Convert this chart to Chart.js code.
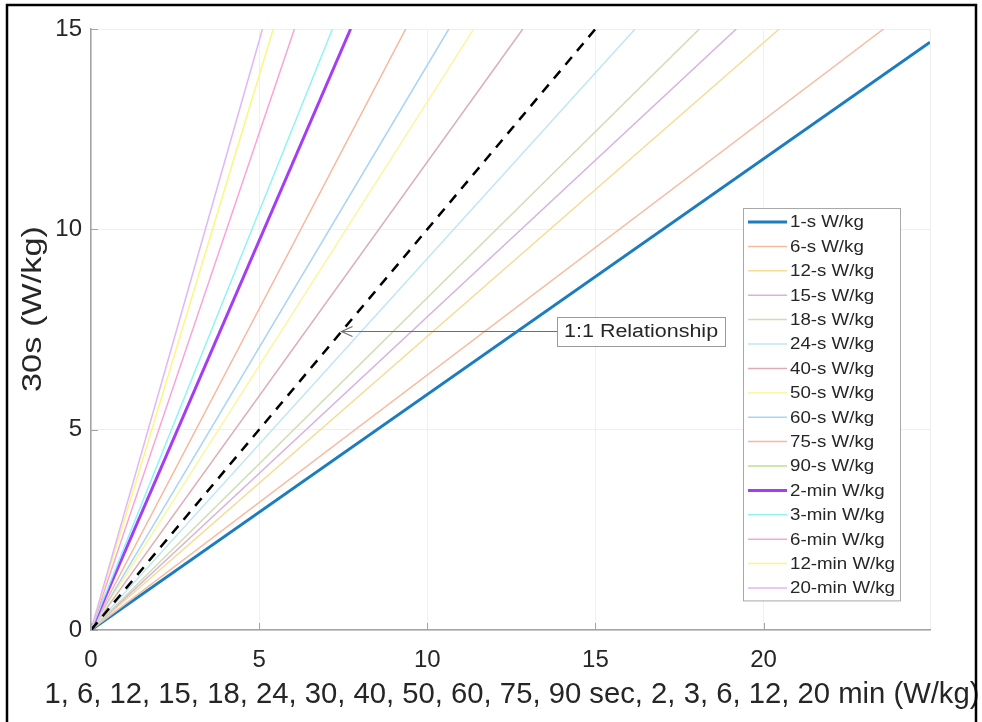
<!DOCTYPE html>
<html>
<head>
<meta charset="utf-8">
<script src="https://cdn.jsdelivr.net/npm/chart.js@4.4.1/dist/chart.umd.min.js"></script>
<style>
  html, body { margin: 0; padding: 0; background: #fff; }
  #wrap { width: 982px; height: 722px; }
</style>
</head>
<body>
<div id="wrap"><canvas id="chart"></canvas></div>
<script>
// series: each line starts at the origin and ends where it leaves the plot
const seriesLabels = ['1-s W/kg', '6-s W/kg', '12-s W/kg', '15-s W/kg', '18-s W/kg', '24-s W/kg',
  '40-s W/kg', '50-s W/kg', '60-s W/kg', '75-s W/kg', '90-s W/kg', '2-min W/kg',
  '3-min W/kg', '6-min W/kg', '12-min W/kg', '20-min W/kg'];
const endX = [24.95, 23.57, 20.47, 19.19, 18.09, 16.18, 12.84, 11.38, 10.64, 9.36, 7.71, 7.72, 7.18, 6.05, 5.42, 5.10];
const endY = [14.67, 15, 15, 15, 15, 15, 15, 15, 15, 15, 15, 15, 15, 15, 15, 15];
const lineColors = ['#1b7cc0', '#f6bca2', '#f7dc98', '#d6b3de', '#cfddb0', '#bfe6f5',
  '#dcadb5', '#fbf6a4', '#a9d3f7', '#f8b79c', '#b9e196', '#a43df7',
  '#8ff3f6', '#f9a3da', '#f9f77e', '#dfb6f6'];
const lineWidths = [3, 1.5, 1.5, 1.5, 1.5, 1.5, 1.5, 1.5, 1.5, 1.5, 1.5, 3, 1.5, 1.5, 1.5, 1.5];

// 1:1 reference line
const identityX = [0, 15];
const identityY = [0, 15];

// annotation
const noteText = '1:1 Relationship';
const noteTip = [7.45, 7.45];
const noteBoxX = 13.86;

const xTicks = [0, 5, 10, 15, 20];
const yTicks = [0, 5, 10, 15];
const xTitle = '1, 6, 12, 15, 18, 24, 30, 40, 50, 60, 75, 90 sec, 2, 3, 6, 12, 20 min (W/kg)';
const yTitle = '30s (W/kg)';

const textColor = '#262626';
const axisColor = '#a3a3a3';
const gridColor = '#efefef';
const fontFam = '"Liberation Sans", Arial, sans-serif';

// the source figure was resized unevenly, so some text is squeezed to a given width
function fitText(ctx, text, x, y, size, width) {
  ctx.font = size + 'px ' + fontFam;
  const sx = width / ctx.measureText(text).width;
  ctx.save();
  ctx.translate(x, y);
  ctx.scale(sx, 1);
  ctx.fillText(text, 0, 0);
  ctx.restore();
}

const datasets = seriesLabels.map((lab, i) => ({
  label: lab,
  data: [{ x: 0, y: 0 }, { x: endX[i], y: endY[i] }],
  borderColor: lineColors[i],
  borderWidth: lineWidths[i],
  pointRadius: 0,
  fill: false,
  order: seriesLabels.length - i
}));
datasets.push({
  label: '1:1',
  data: identityX.map((x, i) => ({ x: x, y: identityY[i] })),
  borderColor: '#000',
  borderWidth: 2.5,
  borderDash: [10, 8],
  pointRadius: 0,
  fill: false,
  order: -1
});

const framePlugin = {
  id: 'frame',
  beforeDraw(chart) {
    const ctx = chart.ctx;
    ctx.save();
    ctx.fillStyle = '#fff';
    ctx.fillRect(0, 0, chart.width, chart.height);
    ctx.restore();
  },
  afterDraw(chart) {
    const ctx = chart.ctx;
    const xs = chart.scales.x, ys = chart.scales.y;
    ctx.save();
    // inward tick marks like matlab
    ctx.strokeStyle = axisColor;
    ctx.lineWidth = 1;
    ctx.beginPath();
    xTicks.forEach(v => {
      const px = Math.round(xs.getPixelForValue(v)) + 0.5;
      ctx.moveTo(px, ys.bottom);
      ctx.lineTo(px, ys.bottom - 7);
    });
    yTicks.forEach(v => {
      const py = Math.round(ys.getPixelForValue(v)) + 0.5;
      ctx.moveTo(xs.left, py);
      ctx.lineTo(xs.left + 7, py);
    });
    ctx.stroke();

    // axis titles
    ctx.fillStyle = textColor;
    ctx.textAlign = 'center';
    ctx.textBaseline = 'middle';
    fitText(ctx, xTitle, 512, 695, 29, 935);
    ctx.save();
    ctx.translate(33, 309);
    ctx.rotate(-Math.PI / 2);
    fitText(ctx, yTitle, 0, 0, 28, 166);
    ctx.restore();

    // outer black frame
    ctx.strokeStyle = '#000';
    ctx.lineWidth = 2.5;
    ctx.strokeRect(7, 5, 969, 730);
    ctx.restore();
  }
};

const notePlugin = {
  id: 'note',
  afterDatasetsDraw(chart) {
    const ctx = chart.ctx;
    const xs = chart.scales.x, ys = chart.scales.y;
    const tipX = xs.getPixelForValue(noteTip[0]);
    const tipY = ys.getPixelForValue(noteTip[1]);
    const bx = xs.getPixelForValue(noteBoxX);
    const bw = 168, bh = 29;
    ctx.save();
    // arrow
    ctx.strokeStyle = '#6e6e6e';
    ctx.lineWidth = 1.2;
    ctx.beginPath();
    ctx.moveTo(bx, tipY);
    ctx.lineTo(tipX, tipY);
    ctx.moveTo(tipX + 11, tipY - 5);
    ctx.lineTo(tipX, tipY);
    ctx.lineTo(tipX + 11, tipY + 5);
    ctx.stroke();
    // box
    ctx.fillStyle = '#fff';
    ctx.fillRect(bx, tipY - bh / 2, bw, bh);
    ctx.strokeStyle = '#9a9a9a';
    ctx.lineWidth = 1;
    ctx.strokeRect(Math.round(bx) + 0.5, Math.round(tipY - bh / 2) + 0.5, bw, bh);
    ctx.fillStyle = textColor;
    ctx.textBaseline = 'middle';
    ctx.textAlign = 'left';
    fitText(ctx, noteText, bx + 7, tipY + 1, 18, 154);
    ctx.restore();
  }
};

const legendPlugin = {
  id: 'boxLegend',
  afterDatasetsDraw(chart) {
    const ctx = chart.ctx;
    const left = 743, top = 208, w = 157, rowH = 24.4;
    const h = rowH * seriesLabels.length + 2;
    ctx.save();
    ctx.fillStyle = '#fff';
    ctx.fillRect(left, top, w, h);
    ctx.strokeStyle = '#a8a8a8';
    ctx.lineWidth = 1;
    ctx.strokeRect(left + 0.5, top + 0.5, w, h);
    ctx.font = '16px ' + fontFam;
    const sx = 105 / ctx.measureText(seriesLabels[seriesLabels.length - 1]).width;
    ctx.textBaseline = 'middle';
    seriesLabels.forEach((lab, i) => {
      const cy = top + 14 + i * rowH;
      ctx.strokeStyle = lineColors[i];
      ctx.lineWidth = lineWidths[i];
      ctx.beginPath();
      ctx.moveTo(left + 5, cy);
      ctx.lineTo(left + 44, cy);
      ctx.stroke();
      ctx.fillStyle = textColor;
      fitText(ctx, lab, left + 47, cy + 1, 16, ctx.measureText(lab).width * sx);
    });
    ctx.restore();
  }
};

new Chart(document.getElementById('chart'), {
  type: 'line',
  data: { datasets: datasets },
  plugins: [framePlugin, notePlugin, legendPlugin],
  options: {
    responsive: true,
    maintainAspectRatio: false,
    animation: false,
    layout: { padding: { top: 29, right: 52, left: 0, bottom: 0 } },
    plugins: {
      legend: { display: false },
      tooltip: { enabled: false }
    },
    scales: {
      x: {
        type: 'linear',
        min: 0,
        max: 24.95,
        afterFit: s => { s.height = 92; },
        afterBuildTicks: s => { s.ticks = xTicks.concat([24.95]).map(v => ({ value: v })); },
        ticks: {
          color: textColor,
          font: { family: fontFam, size: 24 },
          padding: 16,
          maxRotation: 0,
          callback: v => (xTicks.includes(v) ? String(v) : '')
        },
        grid: { color: gridColor, drawTicks: false },
        border: { color: axisColor, width: 1.5 }
      },
      y: {
        min: 0,
        max: 15,
        afterFit: s => { s.width = 91; },
        afterBuildTicks: s => { s.ticks = yTicks.map(v => ({ value: v })); },
        ticks: {
          color: textColor,
          font: { family: fontFam, size: 24 },
          padding: 9
        },
        grid: { color: gridColor, drawTicks: false },
        border: { color: axisColor, width: 1.5 }
      }
    }
  }
});
</script>
</body>
</html>
